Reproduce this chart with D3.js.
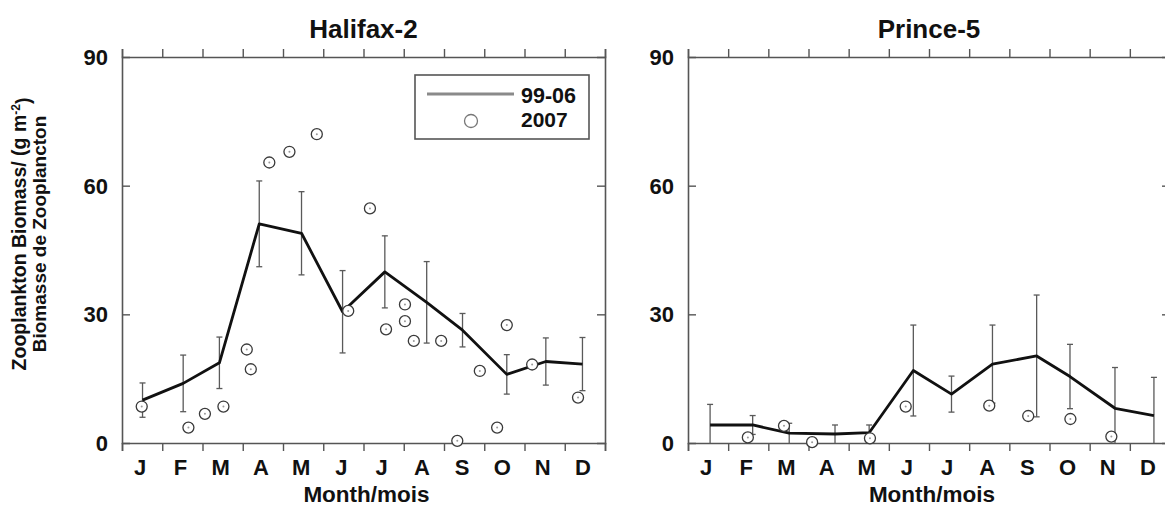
<!DOCTYPE html>
<html>
<head>
<meta charset="utf-8">
<script src="https://cdn.jsdelivr.net/npm/d3@7"></script>
<style>
  html, body { margin: 0; padding: 0; background: #fff; }
  svg { display: block; }
  text { font-family: "Liberation Sans", Arial, sans-serif; font-weight: bold; fill: #111; }
</style>
</head>
<body>
<svg id="chart" width="1165" height="508"></svg>
<script>
// Month initials on the x axis
const monthLabels = ["J", "F", "M", "A", "M", "J", "J", "A", "S", "O", "N", "D"];
const yTicks = [0, 30, 60, 90];

// Halifax-2: 1999-2006 monthly climatology (mean sampling date as decimal month, mean, SD)
const halifaxClimMonth = [0.51, 1.52, 2.42, 3.41, 4.46, 5.48, 6.53, 7.57, 8.46, 9.56, 10.53, 11.44];
const halifaxClimMean  = [10.0, 13.9, 18.7, 51.1, 48.9, 30.6, 39.9, 32.8, 26.3, 16.0, 19.0, 18.4];
const halifaxClimSD    = [4.0, 6.6, 6.0, 10.0, 9.7, 9.6, 8.4, 9.5, 3.9, 4.6, 5.5, 6.2];
// Halifax-2: 2007 observations
const halifax2007Month = [0.49, 1.65, 2.06, 2.52, 3.10, 3.20, 3.66, 4.16, 4.84, 5.62, 6.16,
                          6.56, 7.03, 7.03, 7.25, 7.93, 8.33, 8.89, 9.32, 9.56, 10.19, 11.33];
const halifax2007Value = [8.5, 3.6, 6.8, 8.5, 21.8, 17.2, 65.4, 67.9, 72.0, 30.8, 54.7,
                          26.5, 32.3, 28.4, 23.8, 23.8, 0.5, 16.8, 3.6, 27.5, 18.3, 10.6];

// Prince-5: 1999-2006 monthly climatology
const princeClimMonth = [0.55, 1.61, 2.52, 3.66, 4.51, 5.61, 6.56, 7.58, 8.68, 9.51, 10.63, 11.60];
const princeClimMean  = [4.2, 4.2, 2.3, 2.1, 2.4, 16.9, 11.4, 18.4, 20.3, 15.5, 8.1, 6.4];
const princeClimSD    = [4.8, 2.2, 2.3, 2.1, 1.8, 10.6, 4.2, 9.1, 14.2, 7.5, 9.5, 8.9];
// Prince-5: 2007 observations
const prince2007Month = [1.49, 2.39, 3.09, 4.53, 5.42, 7.50, 8.47, 9.52, 10.54];
const prince2007Value = [1.3, 4.0, 0.2, 1.1, 8.5, 8.7, 6.3, 5.6, 1.5];

const svg = d3.select("#chart");
const frameColor = "#555";
const plotTop = 57, plotBottom = 443, tickLen = 8;

function drawPanel(opts) {
  const x = d3.scaleLinear().domain([0, 12]).range([opts.left, opts.right]);
  const y = d3.scaleLinear().domain([0, 90]).range([plotBottom, plotTop]);
  const g = svg.append("g");

  // title
  g.append("text")
    .attr("x", (opts.left + opts.right) / 2).attr("y", 37.5)
    .attr("text-anchor", "middle").style("font-size", "26px")
    .text(opts.title);

  // frame axes
  const months = d3.range(0, 13);
  const bottomAxis = d3.axisBottom(x).tickValues(months).tickSize(tickLen).tickFormat("");
  const topAxis = d3.axisTop(x).tickValues(months).tickSize(tickLen).tickFormat("");
  const leftAxis = d3.axisLeft(y).tickValues([30, 60]).tickSize(-tickLen).tickFormat("");
  const rightAxis = d3.axisRight(y).tickValues([30, 60]).tickSize(-tickLen).tickFormat("");
  [
    [bottomAxis, `translate(0,${plotBottom})`],
    [topAxis, `translate(0,${plotTop})`],
    [leftAxis, `translate(${opts.left},0)`],
    [rightAxis, `translate(${opts.right},0)`]
  ].forEach(([ax, tr]) => {
    const a = g.append("g").attr("transform", tr).call(ax);
    a.selectAll("path.domain").attr("stroke", frameColor).attr("stroke-width", 1.6);
    a.selectAll(".tick line").attr("stroke", frameColor).attr("stroke-width", 1.4);
  });

  // y tick labels
  g.selectAll("text.ylab").data(yTicks).join("text")
    .attr("class", "ylab")
    .attr("x", opts.left - 14).attr("y", d => y(d))
    .attr("dy", "0.36em").attr("text-anchor", "end")
    .style("font-size", "22px")
    .text(d => d);

  // month labels
  g.selectAll("text.mlab").data(monthLabels).join("text")
    .attr("class", "mlab")
    .attr("x", (d, i) => x(i + 0.5) - 2).attr("y", 475)
    .attr("text-anchor", "middle").style("font-size", "22px")
    .text(d => d);

  g.append("text")
    .attr("x", (opts.left + opts.right) / 2 + 3).attr("y", 502)
    .attr("text-anchor", "middle").style("font-size", "22.5px")
    .text("Month/mois");

  // error bars
  const clim = opts.climMonth.map((m, i) => ({
    m, mean: opts.climMean[i], sd: opts.climSD[i]
  }));
  const eb = g.append("g").attr("stroke", "#5a5a5a").attr("stroke-width", 1.3);
  clim.forEach(d => {
    const lo = Math.max(0, d.mean - d.sd), hi = d.mean + d.sd;
    const cx = x(d.m);
    eb.append("line").attr("x1", cx).attr("x2", cx).attr("y1", y(lo)).attr("y2", y(hi));
    eb.append("line").attr("x1", cx - 3).attr("x2", cx + 3).attr("y1", y(hi)).attr("y2", y(hi));
    if (lo > 0) {
      eb.append("line").attr("x1", cx - 3).attr("x2", cx + 3).attr("y1", y(lo)).attr("y2", y(lo));
    }
  });

  // climatology line
  const line = d3.line().x(d => x(d.m)).y(d => y(d.mean));
  g.append("path").datum(clim)
    .attr("d", line).attr("fill", "none")
    .attr("stroke", "#111").attr("stroke-width", 2.8)
    .attr("stroke-linejoin", "round");

  // 2007 points
  const pts = opts.obsMonth.map((m, i) => ({ m, v: opts.obsValue[i] }));
  const pg = g.append("g");
  pg.selectAll("circle.obs").data(pts).join("circle")
    .attr("class", "obs")
    .attr("cx", d => x(d.m)).attr("cy", d => y(d.v)).attr("r", 5.5)
    .attr("fill", "#fff").attr("stroke", "#3a3a3a").attr("stroke-width", 1.3);
  pg.selectAll("circle.dot").data(pts).join("circle")
    .attr("class", "dot")
    .attr("cx", d => x(d.m)).attr("cy", d => y(d.v)).attr("r", 1)
    .attr("fill", "#9a9a9a");

  return { x, y, g };
}

drawPanel({
  title: "Halifax-2", left: 122, right: 605,
  climMonth: halifaxClimMonth, climMean: halifaxClimMean, climSD: halifaxClimSD,
  obsMonth: halifax2007Month, obsValue: halifax2007Value
});
drawPanel({
  title: "Prince-5", left: 688, right: 1170,
  climMonth: princeClimMonth, climMean: princeClimMean, climSD: princeClimSD,
  obsMonth: prince2007Month, obsValue: prince2007Value
});

// legend (Halifax-2 panel)
const lg = svg.append("g");
lg.append("rect").attr("x", 415).attr("y", 75).attr("width", 174).attr("height", 64)
  .attr("fill", "#fff").attr("stroke", frameColor).attr("stroke-width", 1.6);
lg.append("line").attr("x1", 427).attr("x2", 514).attr("y1", 94).attr("y2", 94)
  .attr("stroke", "#8a8a8a").attr("stroke-width", 3);
lg.append("circle").attr("cx", 471).attr("cy", 121).attr("r", 6.5)
  .attr("fill", "#fff").attr("stroke", "#777").attr("stroke-width", 1.3);
lg.append("text").attr("x", 521).attr("y", 102.5).style("font-size", "21.5px").text("99-06");
lg.append("text").attr("x", 521).attr("y", 127).style("font-size", "21px").text("2007");

// y-axis title
const yt = svg.append("g").attr("transform", "translate(0,234) rotate(-90)");
const t1 = yt.append("text").attr("x", 0).attr("y", 26)
  .attr("text-anchor", "middle").style("font-size", "19.5px");
t1.append("tspan").text("Zooplankton Biomass/ (g m");
t1.append("tspan").attr("dy", "-0.5em").style("font-size", "12px").text("-2");
t1.append("tspan").attr("dy", "0.5em").text(")");
yt.append("text").attr("x", 0).attr("y", 46)
  .attr("text-anchor", "middle").style("font-size", "19px")
  .text("Biomasse de Zooplancton");
</script>
</body>
</html>
